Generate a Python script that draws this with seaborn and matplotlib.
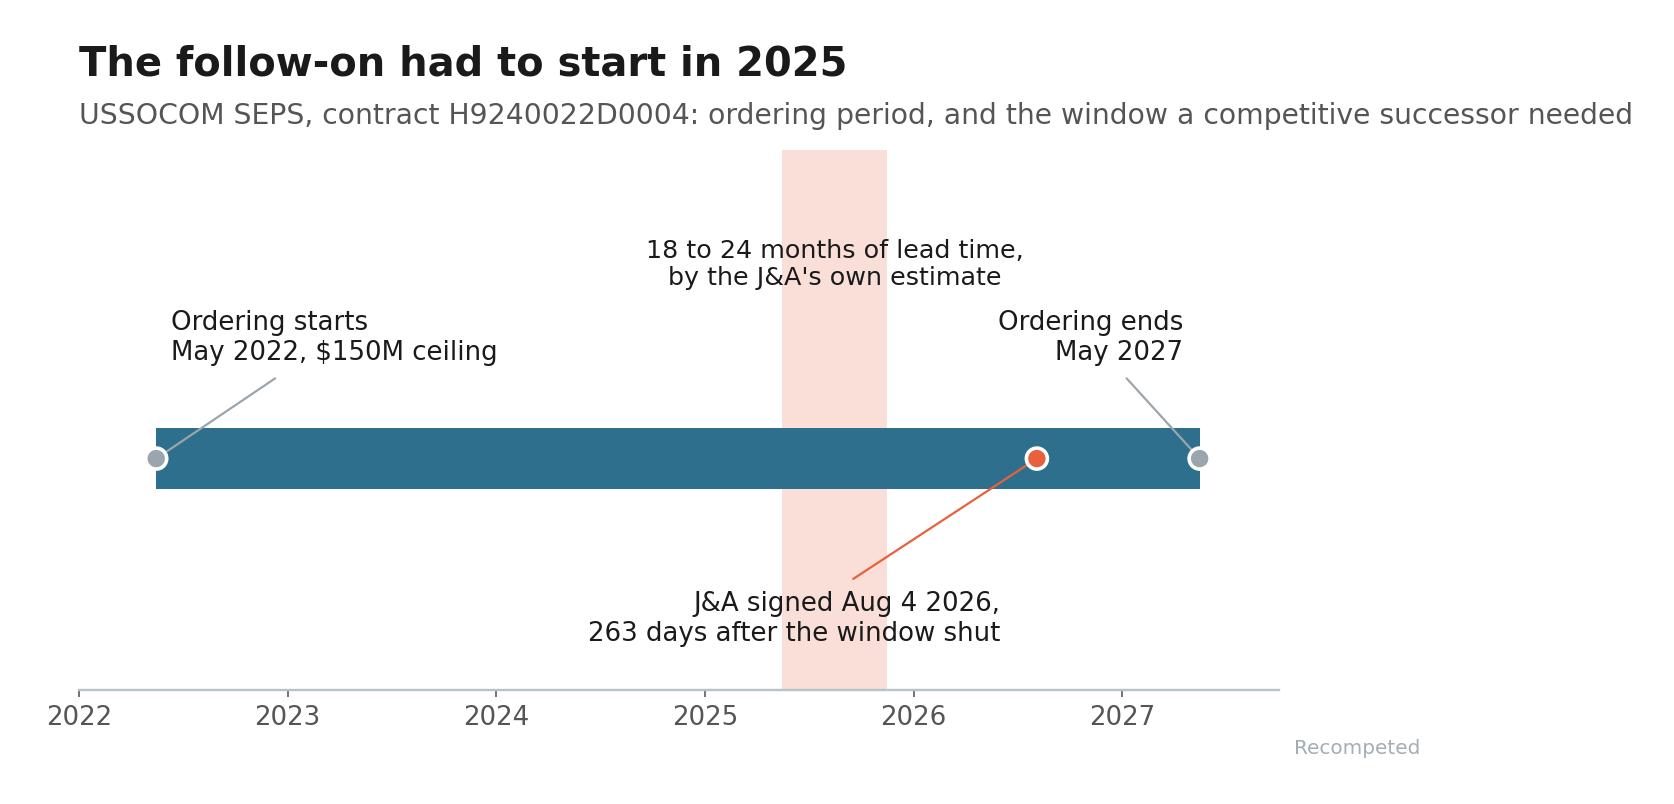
import matplotlib
matplotlib.use("Agg")
import matplotlib.pyplot as plt
import seaborn as sns
import pandas as pd

# ── data (decimal years) ─────────────────────────────────────────────
YEARS = [2022, 2023, 2024, 2025, 2026, 2027]
ORDER_START = 2022.37      # May 2022
ORDER_END = 2027.37        # May 2027
WINDOW_OPEN = 2025.37      # 24 months before ordering ends
WINDOW_SHUT = 2025.87      # 18 months before ordering ends
JA_SIGNED = 2026.59        # Aug 4 2026

events = pd.DataFrame({
    "when": [ORDER_START, ORDER_END, JA_SIGNED],
    "row": [0, 0, 0],
    "kind": ["end", "end", "ja"],
})

BAR = "#2e6f8e"
BAND = "#f9dfd8"
ORANGE = "#e8613c"
GREY = "#9aa5ad"
INK = "#1a1a1a"

sns.set_theme(style="white")
plt.rcParams["font.family"] = ["DejaVu Sans"]

fig = plt.figure(figsize=(1674 / 144, 804 / 144), dpi=144)
ax = fig.add_axes([0.0472, 0.1418, 0.7168, 0.6716])

ax.axvspan(WINDOW_OPEN, WINDOW_SHUT, color=BAND, zorder=0, lw=0)
ax.barh(0, ORDER_END - ORDER_START, left=ORDER_START, height=0.2,
        color=BAR, linewidth=0, zorder=2)

sns.scatterplot(data=events, x="when", y="row", hue="kind",
                palette={"end": GREY, "ja": ORANGE}, s=110,
                edgecolor="white", linewidth=1.8, legend=False,
                zorder=4, ax=ax)

# leaders
ax.plot([ORDER_START, ORDER_START + 0.57], [0, 0.26], color=GREY, lw=1.1, zorder=3)
ax.plot([ORDER_END, ORDER_END - 0.35], [0, 0.26], color=GREY, lw=1.1, zorder=3)
ax.plot([JA_SIGNED, JA_SIGNED - 0.88], [0, -0.39], color=ORANGE, lw=1.1, zorder=3)

ax.text(ORDER_START + 0.07, 0.30, "Ordering starts\nMay 2022, $150M ceiling",
        ha="left", va="bottom", fontsize=13, color=INK)
ax.text(ORDER_END - 0.08, 0.30, "Ordering ends\nMay 2027",
        ha="right", va="bottom", fontsize=13, color=INK, multialignment="right")
ax.text((WINDOW_OPEN + WINDOW_SHUT) / 2, 0.545,
        "18 to 24 months of lead time,\nby the J&A's own estimate",
        ha="center", va="bottom", fontsize=12.7, color=INK, multialignment="center")
ax.text(JA_SIGNED - 0.175, -0.43,
        "J&A signed Aug 4 2026,\n263 days after the window shut",
        ha="right", va="top", fontsize=13, color=INK, multialignment="right")

ax.set_xlim(2022, 2027.75)
ax.set_ylim(-0.75, 1.0)
ax.set_yticks([])
ax.set_xticks(YEARS)
ax.set_xticklabels([str(y) for y in YEARS])
ax.set_xlabel("")
ax.set_ylabel("")
ax.tick_params(axis="x", length=3.5, width=0.8, color="#555555",
               labelcolor="#555555", labelsize=13, pad=4, bottom=True)
for side in ["top", "right", "left"]:
    ax.spines[side].set_visible(False)
ax.spines["bottom"].set_color("#b8c2c9")
ax.spines["bottom"].set_linewidth(1.2)

fig.text(0.0472, 0.9067, "The follow-on had to start in 2025",
         fontsize=20, fontweight="bold", color=INK, va="baseline")
fig.text(0.0472, 0.8458,
         "USSOCOM SEPS, contract H9240022D0004: ordering period, and the window "
         "a competitive successor needed",
         fontsize=14.1, color="#555555", va="baseline")
fig.text(0.773, 0.062, "Recompeted", fontsize=10, color="#a3adb5", va="baseline")

fig.savefig("out.png", dpi=144, facecolor="white")
